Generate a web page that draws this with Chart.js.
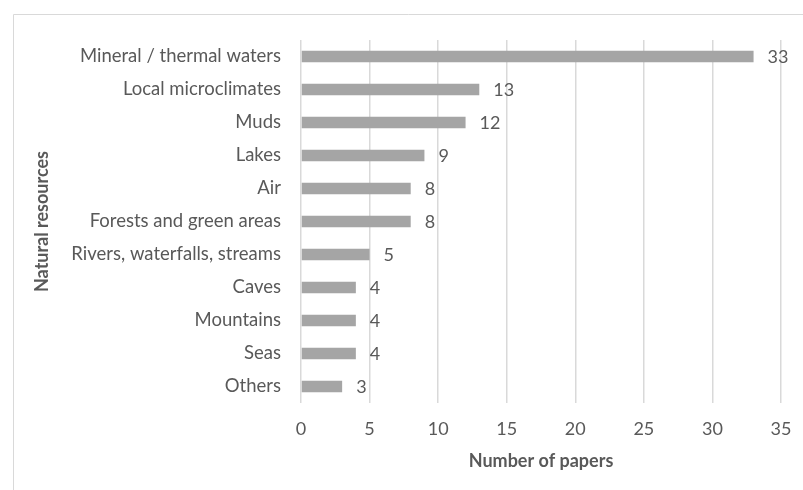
<!DOCTYPE html>
<html>
<head>
<meta charset="utf-8">
<script src="https://cdn.jsdelivr.net/npm/chart.js@4.4.1/dist/chart.umd.min.js"></script>
<style>
  html, body { margin: 0; padding: 0; background: #ffffff; }
  #wrap { width: 803px; height: 490px; position: relative; }
</style>
</head>
<body>
<div id="wrap"><canvas id="chart"></canvas></div>
<script>
// Natural resources studied and the number of papers for each
const categories = [
  'Mineral / thermal waters',
  'Local microclimates',
  'Muds',
  'Lakes',
  'Air',
  'Forests and green areas',
  'Rivers, waterfalls, streams',
  'Caves',
  'Mountains',
  'Seas',
  'Others'
];
const papers = [33, 13, 12, 9, 8, 8, 5, 4, 4, 4, 3];
const xTicks = [0, 5, 10, 15, 20, 25, 30, 35];

const TEXT = '#595959';
const FONT = 'Lato, "Liberation Sans", sans-serif';

// Thin frame around the whole figure
const framePlugin = {
  id: 'frame',
  beforeDraw(chart) {
    const ctx = chart.ctx;
    ctx.save();
    ctx.strokeStyle = '#d9d9d9';
    ctx.lineWidth = 1;
    ctx.beginPath();
    ctx.moveTo(13.5, chart.height + 1);
    ctx.lineTo(13.5, 14.5);
    ctx.lineTo(chart.width + 1, 14.5);
    ctx.stroke();
    ctx.restore();
  }
};

// Value printed just past the end of each bar
const valueLabels = {
  id: 'valueLabels',
  afterDatasetsDraw(chart) {
    const ctx = chart.ctx;
    const meta = chart.getDatasetMeta(0);
    const values = chart.data.datasets[0].data;
    ctx.save();
    ctx.fillStyle = TEXT;
    ctx.font = '18px ' + FONT;
    ctx.textAlign = 'left';
    ctx.textBaseline = 'middle';
    meta.data.forEach((bar, i) => {
      ctx.fillText(String(values[i]), bar.x + 14, bar.y + 1);
    });
    ctx.restore();
  }
};

new Chart(document.getElementById('chart'), {
  type: 'bar',
  data: {
    labels: categories,
    datasets: [{
      data: papers,
      backgroundColor: '#a5a5a5',
      borderWidth: 0,
      barPercentage: 0.35,
      categoryPercentage: 1
    }]
  },
  options: {
    indexAxis: 'y',
    responsive: true,
    maintainAspectRatio: false,
    animation: false,
    layout: { padding: { top: 40, right: 22, left: 0, bottom: 0 } },
    plugins: {
      legend: { display: false },
      tooltip: { enabled: false }
    },
    scales: {
      x: {
        min: 0,
        max: 35,
        afterBuildTicks(scale) { scale.ticks = xTicks.map(v => ({ value: v })); },
        afterFit(scale) {
          scale.height = 87;
          scale.paddingLeft = 0;
          scale.paddingRight = 0;
        },
        grid: { color: '#d9d9d9', lineWidth: 1.5, drawTicks: false },
        border: { display: false },
        ticks: { color: TEXT, font: { family: FONT, size: 18 }, padding: 15, maxRotation: 0 },
        title: {
          display: true,
          text: 'Number of papers',
          color: TEXT,
          font: { family: FONT, size: 18, weight: 'bold' },
          padding: { top: 0, bottom: 18 }
        }
      },
      y: {
        afterFit(scale) { scale.width = 301; },
        grid: { display: false, drawTicks: false },
        border: { display: false },
        ticks: { color: TEXT, font: { family: FONT, size: 18.5 }, padding: 20, autoSkip: false },
        title: {
          display: true,
          text: 'Natural resources',
          color: TEXT,
          font: { family: FONT, size: 18, weight: 'bold' },
          padding: { top: 31, bottom: 0 }
        }
      }
    }
  },
  plugins: [framePlugin, valueLabels]
});
</script>
</body>
</html>
